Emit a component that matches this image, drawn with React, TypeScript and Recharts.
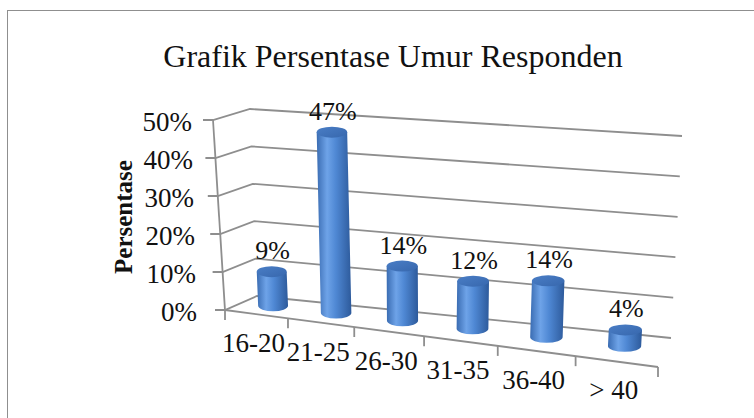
import React from 'react';
import { BarChart, Bar, XAxis, YAxis, CartesianGrid, LabelList } from 'recharts';

const categories = ['16-20', '21-25', '26-30', '31-35', '36-40', '> 40'];
const percentages = [9, 47, 14, 12, 14, 4];
const yTicks = [0, 10, 20, 30, 40, 50];
const chartTitle = 'Grafik Persentase Umur Responden';
const yAxisTitle = 'Persentase';

const data = categories.map((c, i) => ({ category: c, value: percentages[i] }));

const W = 754;
const H = 418;
const PLOT = { left: 250, right: 680, top: 110, bottom: 300 };
const FONT = "'Liberation Serif', 'Times New Roman', serif";
const GRID = '#8e8e8e';

type Pt = [number, number];
// projected corners of the 3D box (front = w 0, back = w 1)
const FBL: Pt = [225, 310];
const FBR: Pt = [658, 367];
const FTL: Pt = [213, 120];
const FTR: Pt = [672, 154];
const BBL: Pt = [257, 296];
const BBR: Pt = [671, 338];
const BTL: Pt = [250, 109];
const BTR: Pt = [682, 136];
const PERSP = 1.175;
const BAR_DEPTH = 0.55;

const lerp = (a: Pt, b: Pt, t: number): Pt => [a[0] + (b[0] - a[0]) * t, a[1] + (b[1] - a[1]) * t];
const persp = (u: number) => u / (u + PERSP * (1 - u));
function project(u: number, v: number, w: number): Pt {
  const s = persp(u);
  const front = lerp(lerp(FBL, FBR, s), lerp(FTL, FTR, s), v);
  const back = lerp(lerp(BBL, BBR, s), lerp(BTL, BTR, s), v);
  return lerp(front, back, w);
}
const toU = (x: number) => (x - PLOT.left) / (PLOT.right - PLOT.left);
const toV = (y: number) => (PLOT.bottom - y) / (PLOT.bottom - PLOT.top);

const GridLine = (props: any) => {
  const v = toV(props.y1);
  const f = project(0, v, 0);
  const b = project(0, v, 1);
  const e = project(1, v, 1);
  const isFloor = Math.abs(v) < 0.001;
  const f0 = project(0, 0, 0);
  const f1 = project(0, 1, 0);
  const fr = project(1, 0, 0);
  return (
    <g>
      <polyline
        points={`${f[0] - 10},${f[1]} ${f[0]},${f[1]} ${b[0]},${b[1]} ${e[0]},${e[1]}`}
        fill="none"
        stroke={GRID}
        strokeWidth={1.8}
      />
      {isFloor && (
        <g>
          <line x1={f0[0]} y1={f0[1]} x2={fr[0]} y2={fr[1]} stroke={GRID} strokeWidth={1.8} />
          <line x1={f0[0]} y1={f0[1]} x2={f1[0]} y2={f1[1]} stroke={GRID} strokeWidth={1.8} />
        </g>
      )}
    </g>
  );
};

const XTick = (props: any) => {
  const { x, index, payload } = props;
  const n = categories.length;
  const u = toU(x);
  const half = 0.5 / n;
  const tickUs = index === 0 ? [u - half, u + half] : [u + half];
  const c = project(u, 0, 0);
  return (
    <g>
      {tickUs.map((t, i) => {
        const p = project(t, 0, 0);
        return <line key={i} x1={p[0]} y1={p[1]} x2={p[0]} y2={p[1] + 10} stroke={GRID} strokeWidth={1.8} />;
      })}
      <text x={c[0] - 2.5} y={c[1] + 29} textAnchor="middle" dominantBaseline="central" fontSize={27} fontFamily={FONT} fill="#111">
        {payload.value}
      </text>
    </g>
  );
};

const YTick = (props: any) => {
  const { y, payload } = props;
  const v = toV(y);
  const f = project(0, v, 0);
  return (
    <text x={f[0] - 28 + 7 * v} y={f[1] + 2} textAnchor="end" dominantBaseline="central" fontSize={27} fontFamily={FONT} fill="#111">
      {`${payload.value}%`}
    </text>
  );
};

const cylGeom = (x: number, y: number, width: number) => {
  const u = toU(x + width / 2);
  const vTop = toV(y);
  const b = project(u, 0, BAR_DEPTH);
  const t = project(u, vTop, BAR_DEPTH);
  const s = persp(u);
  return { b, t, rx: 14.8 + 2 * s, ry: 5.5 };
};

const Cylinder = (props: any) => {
  const { x, y, width, index } = props;
  const { b, t, rx, ry } = cylGeom(x, y, width);
  const id = `cyl-body-${index}`;
  const tid = `cyl-top-${index}`;
  const body = `M${t[0] - rx},${t[1]} L${b[0] - rx},${b[1]} A${rx},${ry} 0 0 0 ${b[0] + rx},${b[1]} L${t[0] + rx},${t[1]} Z`;
  return (
    <g>
      <defs>
        <linearGradient id={id} x1="0" y1="0" x2="1" y2="0">
          <stop offset="0%" stopColor="#3a6cb2" />
          <stop offset="30%" stopColor="#6ea3e8" />
          <stop offset="55%" stopColor="#4f88d4" />
          <stop offset="100%" stopColor="#2d5a9b" />
        </linearGradient>
        <linearGradient id={tid} x1="0" y1="0" x2="1" y2="1">
          <stop offset="0%" stopColor="#4a7ec6" />
          <stop offset="100%" stopColor="#3767ad" />
        </linearGradient>
      </defs>
      <path d={body} fill={`url(#${id})`} />
      <ellipse cx={t[0]} cy={t[1]} rx={rx} ry={ry} fill={`url(#${tid})`} />
    </g>
  );
};

const ValueLabel = (props: any) => {
  const vb = props.viewBox || {};
  const x = props.x ?? vb.x;
  const y = props.y ?? vb.y;
  const width = props.width ?? vb.width;
  const { t } = cylGeom(Number(x), Number(y), Number(width));
  return (
    <text x={t[0] + 1} y={t[1] - 21} textAnchor="middle" dominantBaseline="central" fontSize={26} fontFamily={FONT} fill="#111">
      {`${props.value}%`}
    </text>
  );
};

export default function App() {
  return (
    <div style={{ position: 'absolute', left: 0, top: 0, width: W, height: H, background: '#fff', overflow: 'hidden' }}>
      <div
        style={{
          position: 'absolute',
          left: 7,
          top: 10,
          width: 800,
          height: 500,
          border: '1.5px solid #8f8f8f',
          boxSizing: 'border-box',
        }}
      />
      <div
        style={{
          position: 'absolute',
          left: 0,
          top: 36,
          width: 786,
          textAlign: 'center',
          fontFamily: FONT,
          fontSize: 32,
          lineHeight: '40px',
          color: '#111',
          whiteSpace: 'nowrap',
        }}
      >
        {chartTitle}
      </div>
      <div style={{ position: 'absolute', left: 0, top: 0 }}>
        <BarChart
          width={W}
          height={H}
          data={data}
          margin={{ top: PLOT.top, right: W - PLOT.right, left: PLOT.left - 60, bottom: H - PLOT.bottom - 30 }}
        >
          <CartesianGrid horizontal={GridLine} vertical={false} />
          <XAxis dataKey="category" axisLine={false} tickLine={false} interval={0} tick={XTick} height={30} />
          <YAxis
            domain={[0, 50]}
            ticks={yTicks}
            axisLine={false}
            tickLine={false}
            tick={YTick}
            width={60}
            label={{
              content: () => (
                <text
                  transform="translate(132,217) rotate(-90)"
                  textAnchor="middle"
                  fontSize={25}
                  fontWeight="bold"
                  fontFamily={FONT}
                  fill="#111"
                >
                  {yAxisTitle}
                </text>
              ),
            }}
          />
          <Bar dataKey="value" barSize={30} shape={Cylinder} isAnimationActive={false}>
            <LabelList dataKey="value" content={ValueLabel} />
          </Bar>
        </BarChart>
      </div>
    </div>
  );
}
